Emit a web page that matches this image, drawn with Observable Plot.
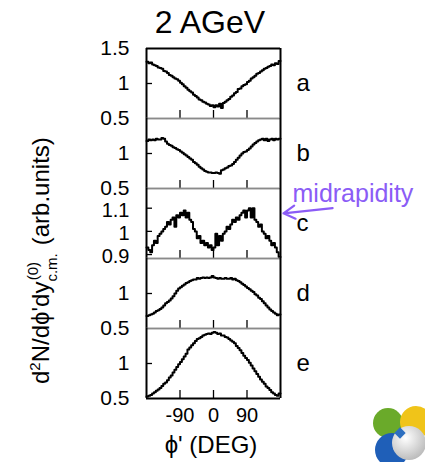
<!DOCTYPE html>
<html><head><meta charset="utf-8">
<script src="https://cdn.jsdelivr.net/npm/d3@7"></script>
<script src="https://cdn.jsdelivr.net/npm/@observablehq/plot@0.6"></script>
<style>
body{margin:0;background:#fff;font-family:"Liberation Sans",Arial,Helvetica,sans-serif}
#c{position:relative;width:425px;height:462px;overflow:hidden;background:#fff}
#c > svg{position:absolute;left:0}
</style>
</head><body><div id="c"></div>
<script>
// ---- data ----
const title = "2 AGeV";
const panelLabels = ["a", "b", "c", "d", "e"];
const phiMin = -180, phiMax = 180, binWidth = 5; // 72 bins of 5 degrees
const xTickValues = [-90, 0, 90];
const yTickValues = [[0.5, 1, 1.5], [0.5, 1], [0.9, 1, 1.1], [0.5, 1], [0.5, 1]];
const yDomains = [[0.5, 1.5], [0.5, 1.5], [0.883, 1.185], [0.5, 1.5], [0.5, 1.5]];

const seriesA = [1.31,1.29,1.30,1.27,1.26,1.25,1.23,1.22,1.21,1.18,1.17,1.15,1.12,1.11,1.09,1.07,1.06,1.04,
  1.01,0.99,0.96,0.94,0.91,0.89,0.87,0.84,0.82,0.80,0.77,0.76,0.74,0.73,0.71,0.70,0.68,0.69,
  0.66,0.69,0.67,0.71,0.65,0.72,0.74,0.76,0.78,0.81,0.83,0.86,0.88,0.92,0.93,0.96,0.98,0.99,
  1.02,1.04,1.07,1.09,1.11,1.14,1.15,1.17,1.19,1.21,1.22,1.24,1.25,1.27,1.26,1.29,1.28,1.32];
const seriesB = [1.18,1.20,1.19,1.20,1.19,1.21,1.20,1.20,1.22,1.21,1.17,1.14,1.12,1.11,1.09,1.08,1.06,1.05,
  1.03,1.01,0.99,0.97,0.95,0.93,0.91,0.88,0.86,0.84,0.81,0.79,0.77,0.75,0.74,0.73,0.73,0.72,
  0.72,0.73,0.72,0.71,0.76,0.77,0.79,0.80,0.82,0.83,0.85,0.88,0.91,0.94,0.97,1.00,1.02,1.03,
  1.05,1.07,1.10,1.13,1.15,1.17,1.19,1.20,1.21,1.19,1.21,1.18,1.20,1.21,1.19,1.21,1.20,1.21];
const seriesC = [0.93,0.92,0.91,0.94,0.96,0.95,0.98,0.99,1.00,1.01,1.02,1.04,1.03,1.05,1.06,1.02,1.07,1.06,
  1.08,1.07,1.09,1.06,1.08,1.05,1.04,1.01,1.00,0.97,0.98,0.95,0.96,0.94,0.95,0.93,0.94,0.92,
  0.93,0.99,0.94,0.98,0.96,0.99,1.00,1.02,1.01,1.03,1.05,1.04,1.06,1.05,1.07,1.08,1.09,1.06,
  1.09,1.10,1.06,1.10,1.05,1.04,1.02,1.03,1.00,0.99,0.97,0.98,0.96,0.94,0.95,0.93,0.91,0.89];
const seriesD = [0.68,0.69,0.70,0.71,0.73,0.75,0.76,0.78,0.80,0.83,0.86,0.88,0.90,0.93,0.96,1.00,1.04,1.07,
  1.09,1.11,1.13,1.15,1.16,1.18,1.19,1.20,1.20,1.22,1.21,1.22,1.23,1.22,1.23,1.22,1.23,1.25,
  1.23,1.22,1.21,1.22,1.21,1.21,1.22,1.21,1.21,1.22,1.20,1.21,1.19,1.18,1.16,1.14,1.12,1.10,
  1.08,1.06,1.04,1.02,0.99,0.97,0.94,0.92,0.89,0.86,0.83,0.80,0.77,0.75,0.73,0.71,0.69,0.70];
const seriesE = [0.53,0.54,0.55,0.57,0.59,0.61,0.63,0.65,0.68,0.71,0.73,0.76,0.80,0.83,0.87,0.91,0.95,0.99,
  1.02,1.06,1.10,1.14,1.20,1.23,1.26,1.29,1.32,1.35,1.36,1.38,1.40,1.41,1.42,1.43,1.42,1.44,
  1.45,1.44,1.42,1.43,1.40,1.40,1.38,1.37,1.35,1.33,1.31,1.29,1.25,1.22,1.19,1.15,1.11,1.08,
  1.05,1.01,0.97,0.93,0.89,0.85,0.81,0.77,0.74,0.71,0.67,0.65,0.62,0.59,0.57,0.55,0.54,0.57];
const allSeries = [seriesA, seriesB, seriesC, seriesD, seriesE];
const annotationText = "midrapidity";
const annotatedPanel = 2;

// ---- layout ----
const W = 425, top0 = 48, PH = 70, M = 14, ML = 146, MR = 145;
const purple = "#8b5cf6";
const c = document.getElementById("c");

allSeries.forEach((vals, i) => {
  const pts = vals.map((v, j) => ({x: phiMin + binWidth * j, y: v}));
  pts.push({x: phiMax, y: vals[vals.length - 1]});
  const last = i === allSeries.length - 1;
  const [y0, y1] = yDomains[i];
  const inner = yTickValues[i].filter(t => t > y0 + 1e-9 && t < y1 - 1e-9);
  const fine = i === annotatedPanel;
  const marks = [
    Plot.axisY(yTickValues[i], {tickSize: 0, tickPadding: 17, fontSize: fine ? 20 : 21, dy: fine ? 2 : 0, tickFormat: d => String(d), label: null}),
    Plot.tickY(inner, {y: d => d, stroke: "black", strokeWidth: 1.3, insetRight: (W - ML - MR) - 6}),
    Plot.tickX(xTickValues, {x: d => d, stroke: "black", strokeWidth: 1.3, insetTop: PH - 8}),
    Plot.line(pts, {x: "x", y: "y", curve: "step-after", stroke: "black", strokeWidth: 2}),
    Plot.ruleY([y0], {stroke: last ? "black" : "#8a8a8a", strokeWidth: last ? 2 : 1.4}),
    Plot.ruleY([y1], {stroke: i === 0 ? "black" : "#8a8a8a", strokeWidth: i === 0 ? 2 : 1.4}),
    Plot.ruleX([phiMin, phiMax], {stroke: "black", strokeWidth: 2}),
    Plot.text([panelLabels[i]], {text: d => d, frameAnchor: "right", dx: 16, textAnchor: "start", fontSize: 24, fill: "black"})
  ];
  if (last) marks.push(Plot.axisX(xTickValues, {tickSize: 0, tickPadding: 9, fontSize: 20, tickFormat: d => String(d), label: null}));
  if (fine) {
    marks.push(Plot.text([annotationText], {text: d => d, frameAnchor: "top-right", dx: 12, dy: 13, textAnchor: "start", lineAnchor: "bottom", fontSize: 25, fill: purple}));
    marks.push(Plot.arrow([{x1: 320, y1: 1.1, x2: 188, y2: 1.078}], {x1: "x1", y1: "y1", x2: "x2", y2: "y2", stroke: purple, strokeWidth: 2.2, headLength: 9, bend: 0}));
  }
  const svg = Plot.plot({
    width: W, height: PH + M + (last ? 40 : M),
    marginTop: M, marginBottom: last ? 40 : M, marginLeft: ML, marginRight: MR,
    x: {domain: [phiMin, phiMax], axis: null},
    y: {domain: yDomains[i], axis: null},
    style: {background: "transparent", overflow: "visible", color: "black", fontFamily: '"Liberation Sans", Arial, sans-serif'},
    marks
  });
  svg.style.top = (top0 + PH * i - M) + "px";
  c.appendChild(svg);
});

// overlay text: title, axis labels, logo
const ns = "http://www.w3.org/2000/svg";
const ov = document.createElementNS(ns, "svg");
ov.setAttribute("width", W); ov.setAttribute("height", 462);
ov.style.top = "0px";
ov.innerHTML = `
<g font-family="Liberation Sans, Arial, sans-serif" fill="black">
<text x="210" y="33" font-size="32" text-anchor="middle">${title}</text>
<text x="211" y="453" font-size="24" text-anchor="middle">\u03D5' (DEG)</text>
<text transform="translate(49,384) rotate(-90)" font-size="24">d<tspan font-size="15" dy="-9">2</tspan><tspan dy="9">N/d\u03D5'dy</tspan><tspan font-size="15" dy="8">c.m.</tspan><tspan font-size="15" dx="-27" dy="-19">(0)</tspan><tspan dx="10" dy="11"> (arb.units)</tspan></text>
</g>
<defs><radialGradient id="gs" cx="0.4" cy="0.35" r="0.7"><stop offset="0" stop-color="#ffffff"/><stop offset="1" stop-color="#b8b8b8"/></radialGradient></defs>
<circle cx="388" cy="423" r="15" fill="#6aaa2a"/>
<circle cx="416" cy="422" r="16" fill="#f0c419"/>
<circle cx="392" cy="450" r="17" fill="#1f5fb8"/>
<circle cx="409" cy="443" r="17" fill="url(#gs)"/>
<rect x="396" y="429" width="8" height="8" fill="#2d6fc0" transform="rotate(45 400 433)"/>
`;
c.appendChild(ov);
</script>
</body></html>
